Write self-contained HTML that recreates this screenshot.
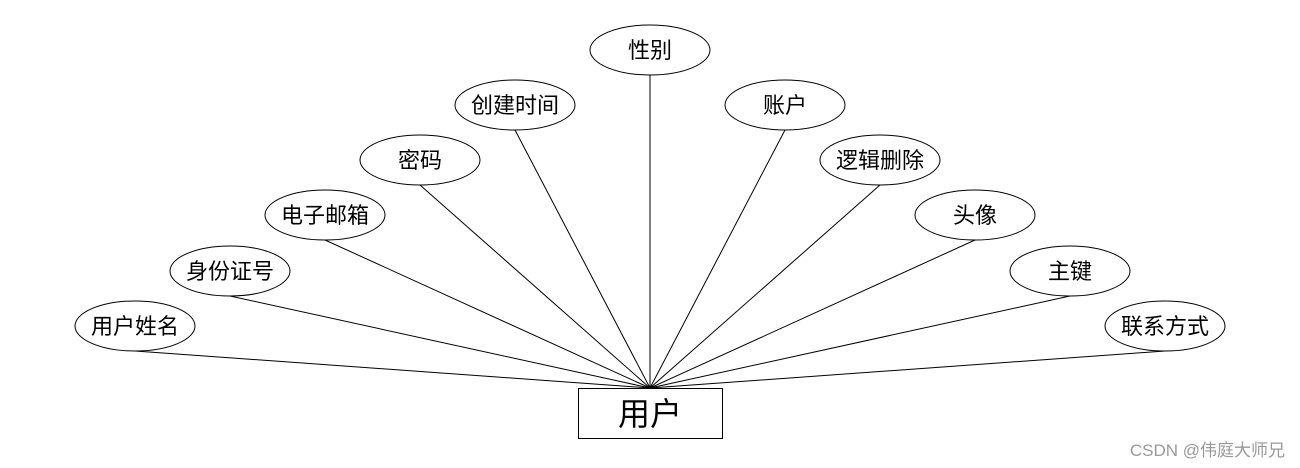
<!DOCTYPE html>
<html><head><meta charset="utf-8"><style>
html,body{margin:0;padding:0;background:#fff;}
svg{display:block;}
text{font-family:"Liberation Sans","Noto Sans CJK SC",sans-serif;}
</style></head><body>
<svg width="1300" height="468" viewBox="0 0 1300 468" xmlns="http://www.w3.org/2000/svg">
<g stroke="#000" stroke-width="1" fill="none">
<line x1="135" y1="351" x2="650" y2="388"/>
<line x1="230" y1="296" x2="650" y2="388"/>
<line x1="325" y1="240" x2="650" y2="388"/>
<line x1="420" y1="185" x2="650" y2="388"/>
<line x1="515" y1="130" x2="650" y2="388"/>
<line x1="650" y1="75" x2="650" y2="388"/>
<line x1="785" y1="130" x2="650" y2="388"/>
<line x1="880" y1="185" x2="650" y2="388"/>
<line x1="975" y1="240" x2="650" y2="388"/>
<line x1="1070" y1="296" x2="650" y2="388"/>
<line x1="1165" y1="351" x2="650" y2="388"/>
</g>
<g stroke="#000" stroke-width="1" fill="#fff">
<ellipse cx="135" cy="326" rx="60" ry="25"/>
<ellipse cx="230" cy="271" rx="60" ry="25"/>
<ellipse cx="325" cy="215" rx="60" ry="25"/>
<ellipse cx="420" cy="160" rx="60" ry="25"/>
<ellipse cx="515" cy="105" rx="60" ry="25"/>
<ellipse cx="650" cy="50" rx="60" ry="25"/>
<ellipse cx="785" cy="105" rx="60" ry="25"/>
<ellipse cx="880" cy="160" rx="60" ry="25"/>
<ellipse cx="975" cy="215" rx="60" ry="25"/>
<ellipse cx="1070" cy="271" rx="60" ry="25"/>
<ellipse cx="1165" cy="326" rx="60" ry="25"/>
<rect x="578.5" y="388.5" width="144" height="50"/>
</g>
<g font-size="22" text-anchor="middle" fill="#000">
<text x="135" y="334">用户姓名</text>
<text x="230" y="279">身份证号</text>
<text x="325" y="223">电子邮箱</text>
<text x="420" y="168">密码</text>
<text x="515" y="113">创建时间</text>
<text x="650" y="58">性别</text>
<text x="785" y="113">账户</text>
<text x="880" y="168">逻辑删除</text>
<text x="975" y="223">头像</text>
<text x="1070" y="279">主键</text>
<text x="1165" y="334">联系方式</text>
<text x="650" y="425" font-size="32">用户</text>
</g>
<text x="1285" y="456" font-size="17" fill="#999" text-anchor="end">CSDN @伟庭大师兄</text>
</svg>
</body></html>
